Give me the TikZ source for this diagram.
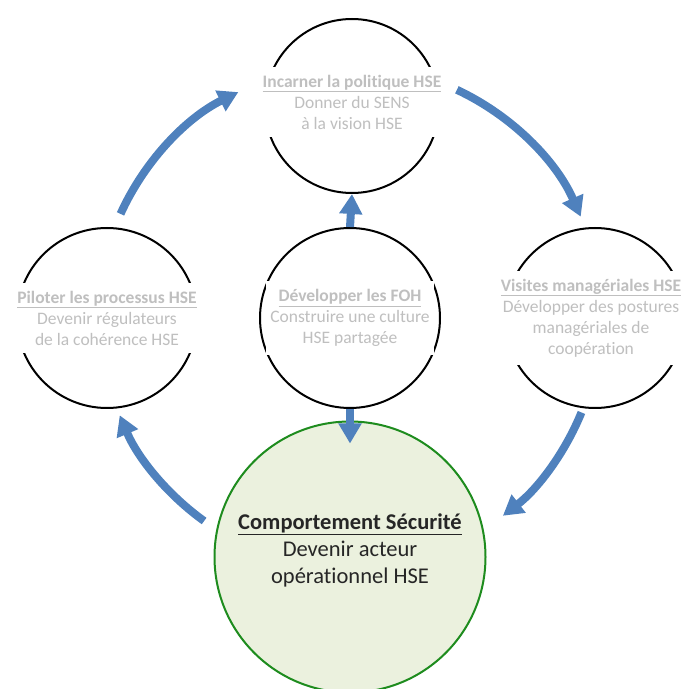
\documentclass[tikz,border=0pt]{standalone}
\usepackage{fontspec}
\setmainfont{Carlito}[RawFeature={-liga;-clig;-calt;-dlig}]
\usepackage{xcolor}
\usetikzlibrary{arrows.meta,calc}
\definecolor{flowblue}{HTML}{4F81BD}
\definecolor{txtgray}{HTML}{BFBFBF}
\definecolor{ringgreen}{HTML}{1E8C1E}
\definecolor{ringfill}{HTML}{EBF1DE}

\begin{document}
\begin{tikzpicture}[x=1pt,y=1pt,
  ring/.style={circle,draw=black,line width=2pt,inner sep=0pt,minimum size=180pt},
  txt/.style={fill=white,align=center,text=txtgray,inner xsep=4pt,inner ysep=8pt,font=\fontsize{17.5}{21}\selectfont},
  flow/.style={draw=flowblue,line width=8pt,-{Triangle[width=22pt,length=20pt]}}]
\useasboundingbox (0,0) rectangle (684,689);
\coordinate (hub) at (350,371);

% cercles
\node[ring,minimum size=174pt] (incarner) at (352,583) {};
\node[ring] (piloter) at (107,371) {};
\node[ring] (foh) at (350,371) {};
\node[ring] (visites) at (595,371) {};
\node[circle,draw=ringgreen,fill=ringfill,line width=2pt,inner sep=0pt,minimum size=271pt] (secu) at (350,132) {};

% textes
\node[txt] (tincarner) at ($(incarner)+(0,4)$) {\textbf{\underline{Incarner la politique HSE}}\\Donner du SENS\\à la vision HSE};
\node[txt] (tpiloter) at (piloter) {\textbf{\underline{Piloter les processus HSE}}\\Devenir régulateurs\\de la cohérence HSE};
\node[txt] (tfoh) at (foh) {\textbf{\underline{Développer les FOH}}\\Construire une culture\\HSE partagée};
\node[txt] (tvisites) at ($(visites)+(-4,0)$) {\textbf{\underline{Visites managériales HSE}}\\Développer des postures\\managériales de\\coopération};
\node[align=center,text=black!85,font=\fontsize{22.5}{27}\selectfont] (tsecu) at ($(secu)+(0,7)$) {\textbf{\underline{Comportement Sécurité}}\\Devenir acteur\\opérationnel HSE};

% fleches
\draw[flow] (hub) ++(155.6:252) arc[start angle=155.6,end angle=116.3,radius=252];
\draw[flow] (hub) ++(64.9:252) arc[start angle=64.9,end angle=23.7,radius=252];
\draw[flow] (hub) ++(-22.2:250) arc[start angle=-22.2,end angle=-52.3,radius=250];
\draw[flow] (hub) ++(234.3:250) arc[start angle=234.3,end angle=202.9,radius=250];
\draw[flow] (foh.north) -- (incarner.south);
\draw[flow,shorten >=-23pt] (foh.south) -- (secu.north);
\end{tikzpicture}
\end{document}
